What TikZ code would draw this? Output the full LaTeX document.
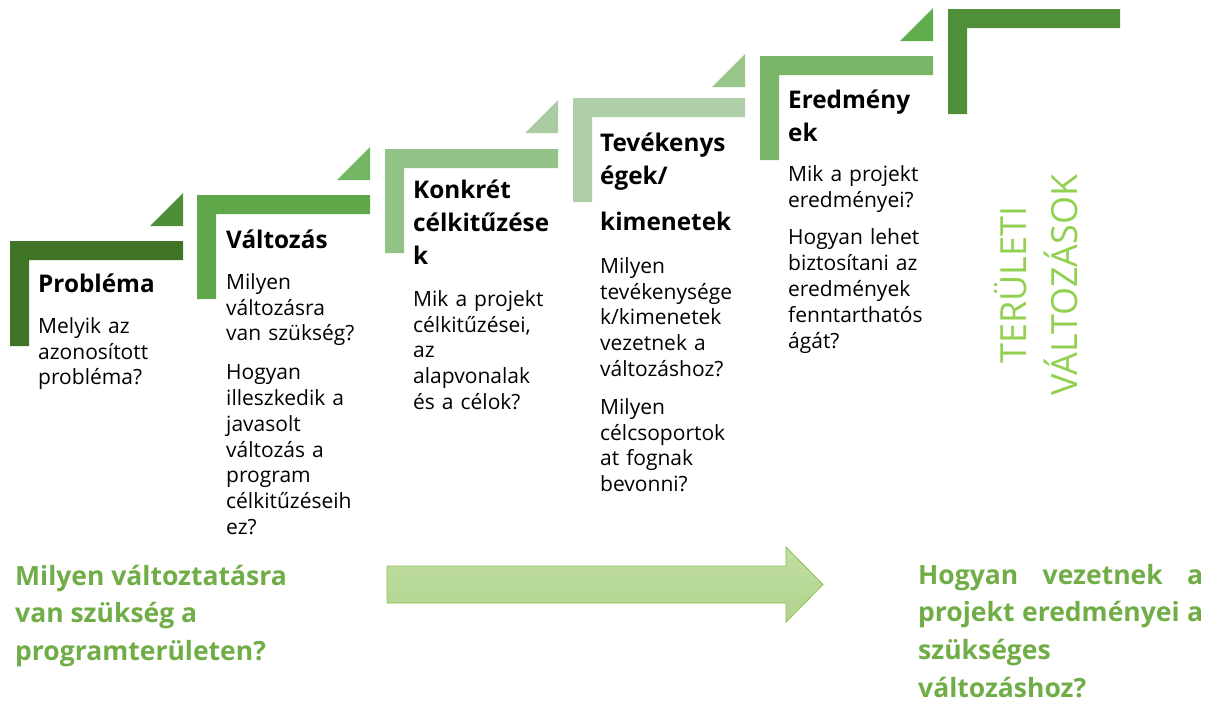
\documentclass[tikz,border=0pt]{standalone}
\usepackage{fontspec}
\setmainfont{Open Sans}
\definecolor{cA}{HTML}{3F7427}
\definecolor{tA}{HTML}{4E8E38}
\definecolor{cB}{HTML}{5FA84A}
\definecolor{tB}{HTML}{72B562}
\definecolor{cC}{HTML}{93C287}
\definecolor{tC}{HTML}{ABCCA3}
\definecolor{cD}{HTML}{AECEA7}
\definecolor{tD}{HTML}{98C68B}
\definecolor{cE}{HTML}{78B567}
\definecolor{tE}{HTML}{61AC4D}
\definecolor{cF}{HTML}{4F8F38}
\definecolor{qgreen}{HTML}{70AD47}
\definecolor{vgreen}{HTML}{92D050}
\definecolor{arrtop}{HTML}{C0DEA2}
\definecolor{arrbot}{HTML}{B2D48E}
\definecolor{arredge}{HTML}{8DC056}
\begin{document}
\begin{tikzpicture}[x=1pt,y=-1pt,
  headtxt/.style={anchor=north west,inner sep=0pt,text width=170pt,align=left,
    font=\bfseries\fontsize{24.3}{33}\selectfont},
  bodytxt/.style={anchor=north west,inner sep=0pt,text width=170pt,align=left,
    font=\fontsize{21}{25.8}\selectfont},
  qtxt/.style={anchor=north west,inner sep=0pt,align=left,text=qgreen,
    font=\bfseries\fontsize{26.5}{37.7}\selectfont}]
\useasboundingbox (0,0) rectangle (1217,707);
% L brackets and triangles
\newcommand\bracketL[5]{%
  \fill[#5] (#1,#2) -- (#3,#2) -- (#3,#2+19) -- (#1+19,#2+19) -- (#1+19,#4) -- (#1,#4) -- cycle;}
\newcommand\cornerT[3]{%
  \fill[#3] (#1-33,#2) -- (#1,#2) -- (#1,#2-33) -- cycle;}
\bracketL{10}{241}{183}{346}{cA}
\cornerT{183}{226}{tA}
\bracketL{197}{195}{370}{299}{cB}
\cornerT{370}{180}{tB}
\bracketL{385}{149}{558}{253}{cC}
\cornerT{558}{133}{tC}
\bracketL{573}{98}{745}{202}{cD}
\cornerT{745}{87}{tD}
\bracketL{760}{56}{933}{160}{cE}
\cornerT{933}{41}{tE}
\bracketL{948}{9}{1120}{114}{cF}
% step texts
\node[headtxt] (h1) at (38,268.9) {\strut Probléma};
\node[bodytxt] (b1) at (38,315) {\strut Melyik az\\azonosított\\probléma?};
\node[headtxt] (h2) at (226,225) {\strut Változás};
\node[bodytxt] (b2) at (226,271) {\strut Milyen\\változásra\\van szükség?\\[13pt]Hogyan\\illeszkedik a\\javasolt\\változás a\\program\\célkitűzéseih\\ez?};
\node[headtxt] (h3) at (413,175) {\strut Konkrét\\célkitűzése\\k};
\node[bodytxt] (b3) at (413,288) {\strut Mik a projekt\\célkitűzései,\\az\\alapvonalak\\és a célok?};
\node[headtxt] (h4) at (600,128) {\strut Tevékenys\\égek/\\[13pt]kimenetek};
\node[bodytxt] (b4) at (600,255) {\strut Milyen\\tevékenysége\\k/kimenetek\\vezetnek a\\változáshoz?\\[12pt]Milyen\\célcsoportok\\at fognak\\bevonni?};
\node[headtxt] (h5) at (788,85) {\strut Eredmény\\ek};
\node[bodytxt] (b5) at (788,163) {\strut Mik a projekt\\eredményei?\\[12pt]Hogyan lehet\\biztosítani az\\eredmények\\fenntarthatós\\ágát?};
% vertical text
\node[rotate=90,align=center,inner sep=0pt,text=vgreen,font=\fontsize{36}{51}\selectfont] (vt) at (1036,285) {TERÜLETI\\VÁLTOZÁSOK};
% arrow
\shade[top color=arrtop,bottom color=arrbot,draw=arredge,line width=0.8pt]
  (387,566) -- (786,566) -- (786,547) -- (823,584.5) -- (786,622) -- (786,603) -- (387,603) -- cycle;
% bottom questions
\node[qtxt] (ql) at (15,558.6) {\strut Milyen változtatásra\\van szükség a\\programterületen?};
\node[qtxt] (qr) at (918,557.6) {\strut\makebox[285pt][s]{Hogyan vezetnek a}\\\makebox[285pt][s]{projekt eredményei a}\\szükséges\\változáshoz?};
\end{tikzpicture}
\end{document}
